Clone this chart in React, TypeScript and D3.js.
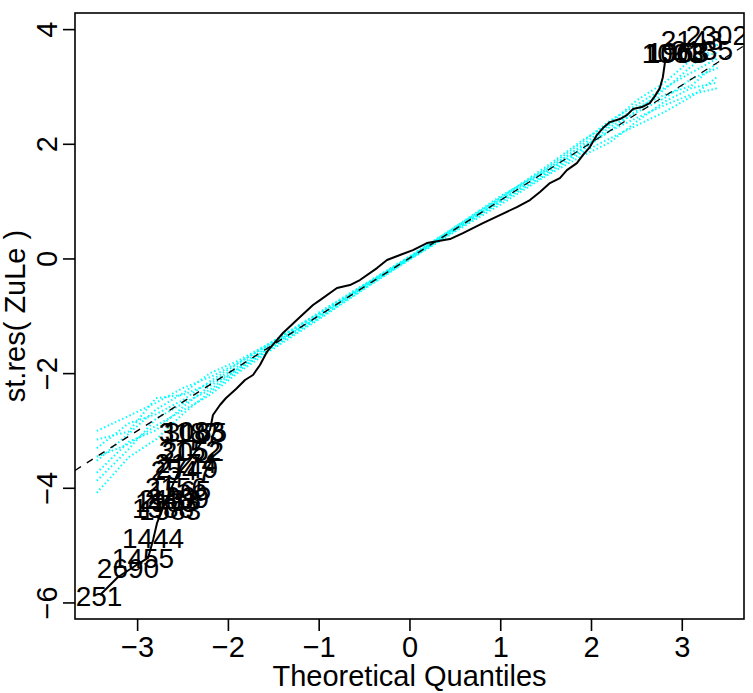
import React from 'react';
import * as d3 from 'd3';

const qqX = [-3.414, -3.216, -3.029, -2.885, -2.83, -2.786, -2.72, -2.566, -2.423, -2.28, -2.203, -2.17, -2.093, -2.026, -1.916, -1.817, -1.729, -1.652, -1.575, -1.542, -1.399, -1.211, -1.068, -0.991, -0.804, -0.661, -0.551, -0.363, -0.253, -0.11, 0.033, 0.187, 0.33, 0.441, 0.584, 0.804, 0.991, 1.178, 1.322, 1.432, 1.542, 1.652, 1.729, 1.839, 1.905, 1.982, 2.059, 2.126, 2.203, 2.313, 2.39, 2.456, 2.555, 2.643, 2.698, 2.753, 2.786, 2.808, 2.81];
const qqY = [-5.861, -5.547, -5.355, -5.215, -4.901, -4.605, -4.343, -3.768, -3.506, -3.157, -2.983, -2.721, -2.547, -2.425, -2.268, -2.111, -2.024, -1.85, -1.62, -1.554, -1.292, -1.013, -0.804, -0.717, -0.507, -0.455, -0.368, -0.159, -0.019, 0.068, 0.155, 0.277, 0.317, 0.347, 0.452, 0.626, 0.766, 0.905, 1.027, 1.167, 1.323, 1.411, 1.55, 1.672, 1.812, 1.951, 2.16, 2.283, 2.387, 2.44, 2.509, 2.614, 2.649, 2.718, 2.84, 2.98, 3.171, 3.415, 3.52];

// Simulated envelope series (cyan dotted)
const envX = [-3.45, -3.1, -2.8, -2.5, -2.2, -1.9, -1.5, -1.0, -0.5, 0, 0.5, 1.0, 1.5, 1.9, 2.2, 2.5, 2.8, 3.1, 3.39];
const simA = [-3.0, -2.74, -2.51, -2.25, -2.06, -1.82, -1.45, -0.96, -0.47, 0.02, 0.52, 1.01, 1.5, 1.9, 2.23, 2.59, 2.95, 3.36, 3.74];
const simB = [-4.08, -3.46, -3.15, -2.7, -2.32, -1.96, -1.52, -1.0, -0.49, 0.02, 0.53, 1.04, 1.56, 1.96, 2.23, 2.46, 2.68, 2.87, 2.98];
const simC = [-3.3, -2.87, -2.71, -2.46, -2.13, -1.83, -1.43, -0.95, -0.45, 0.04, 0.54, 1.07, 1.58, 2.04, 2.41, 2.69, 2.98, 3.25, 3.5];
const simD = [-3.73, -3.19, -2.99, -2.58, -2.21, -1.93, -1.53, -1.03, -0.51, 0.0, 0.5, 0.99, 1.47, 1.86, 2.1, 2.33, 2.56, 2.83, 3.18];
const simE = [-3.52, -3.05, -2.63, -2.34, -1.99, -1.78, -1.43, -0.93, -0.44, 0.05, 0.56, 1.07, 1.61, 2.07, 2.36, 2.77, 3.07, 3.48, 3.6];
const simF = [-3.87, -3.32, -2.79, -2.52, -2.28, -1.92, -1.49, -0.98, -0.48, 0.01, 0.51, 1.02, 1.53, 1.92, 2.3, 2.56, 2.8, 3.14, 3.33];
const simG = [-3.45, -3.23, -2.91, -2.64, -2.37, -1.99, -1.56, -1.05, -0.52, -0.01, 0.48, 0.95, 1.45, 1.8, 2.03, 2.4, 2.74, 2.98, 3.08];
const simH = [-3.15, -3.01, -2.43, -2.37, -2.17, -1.88, -1.47, -1.01, -0.46, 0.03, 0.56, 1.1, 1.54, 1.99, 2.34, 2.64, 2.86, 3.02, 3.43];
const simSeries = [simA, simB, simC, simD, simE, simF, simG, simH];

// Labelled observations
const labelNames = ['3187', '3165', '1083', '3152', '2052', '2174', '2547', '2749', '2156', '1565', '2133', '1903', '2409', '1388', '1583', '1444', '1455', '2690', '251', '1003', '1068', '1963', '2143', '2135', '2302'];
const labelX = [-2.423, -2.357, -2.379, -2.423, -2.39, -2.467, -2.511, -2.456, -2.577, -2.533, -2.643, -2.687, -2.555, -2.72, -2.643, -2.83, -2.941, -3.106, -3.425, 2.896, 2.93, 2.952, 3.106, 3.216, 3.381];
const labelY = [-3.018, -3.018, -3.001, -3.332, -3.35, -3.559, -3.681, -3.646, -3.977, -4.03, -4.187, -4.239, -4.169, -4.343, -4.378, -4.867, -5.215, -5.39, -5.879, 3.59, 3.59, 3.608, 3.817, 3.643, 3.905];

const xTicks = [-3, -2, -1, 0, 1, 2, 3];
const yTicks = [-6, -4, -2, 0, 2, 4];
const refIntercept = 0.02;
const refSlope = 1.005;

const fmt = (v: number) => (v < 0 ? '\u2212' + Math.abs(v) : String(v));

export default function App() {
  const W = 753, H = 693;
  const L = 75, R = 744, T = 13, B = 619;
  const x = d3.scaleLinear().domain([-3.69, 3.68]).range([L, R]);
  const y = d3.scaleLinear().domain([-6.28, 4.29]).range([B, T]);
  const line = d3.line<[number, number]>().x(d => x(d[0])).y(d => y(d[1]));
  const font = '"Liberation Sans", Arial, Helvetica, sans-serif';
  const [x0, x1] = x.domain();
  const refPts: [number, number][] = [[x0, refIntercept + refSlope * x0], [x1, refIntercept + refSlope * x1]];

  return (
    <svg width={W} height={H} style={{ position: 'absolute', left: 0, top: 0, background: '#fff' }} fontFamily={font}>
      <defs>
        <clipPath id="plotclip"><rect x={L} y={T} width={R - L} height={B - T} /></clipPath>
      </defs>
      <rect x={0} y={0} width={W} height={H} fill="#fff" />
      <g clipPath="url(#plotclip)">
        {simSeries.map((s, i) => (
          <path key={i} d={line(envX.map((v, j) => [v, s[j]] as [number, number])) || ''}
            fill="none" stroke="#00FFFF" strokeWidth={2} strokeDasharray="1.5 2.5" />
        ))}
        <path d={line(refPts) || ''} fill="none" stroke="#000" strokeWidth={1.3} strokeDasharray="7 7" />
        <path d={line(qqX.map((v, i) => [v, qqY[i]] as [number, number])) || ''} fill="none" stroke="#000" strokeWidth={2} strokeLinejoin="round" />
        {labelNames.map((n, i) => (
          <text key={n + i} x={x(labelX[i])} y={y(labelY[i])} dy="0.36em" textAnchor="middle" fontSize={28} fill="#000">{n}</text>
        ))}
      </g>
      <rect x={L} y={T} width={R - L} height={B - T} fill="none" stroke="#000" strokeWidth={1.6} />
      {xTicks.map(t => (
        <g key={'x' + t}>
          <line x1={x(t)} x2={x(t)} y1={B} y2={B + 12} stroke="#000" strokeWidth={1.6} />
          <text x={x(t)} y={657} textAnchor="middle" fontSize={29}>{fmt(t)}</text>
        </g>
      ))}
      {yTicks.map(t => (
        <g key={'y' + t}>
          <line x1={L - 12} x2={L} y1={y(t)} y2={y(t)} stroke="#000" strokeWidth={1.6} />
          <text transform={`translate(57,${y(t)}) rotate(-90)`} textAnchor="middle" fontSize={29}>{fmt(t)}</text>
        </g>
      ))}
      <text x={(L + R) / 2} y={686} textAnchor="middle" fontSize={29}>Theoretical Quantiles</text>
      <text transform={`translate(25,${(T + B) / 2}) rotate(-90)`} textAnchor="middle" fontSize={29}>st.res( ZuLe )</text>
    </svg>
  );
}
